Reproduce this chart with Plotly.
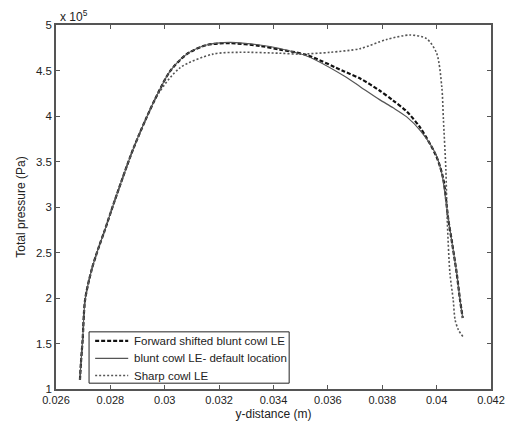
import plotly.graph_objects as go

# Total pressure profiles across the duct (pressure in units of 1e5 Pa)
x_forward = [0.02688, 0.02692, 0.02698, 0.02707, 0.02731, 0.02754, 0.02780, 0.02817,
             0.02883, 0.02934, 0.02975, 0.03019, 0.03081, 0.03154, 0.03240, 0.03350,
             0.03424, 0.03522, 0.03660, 0.03720, 0.03790, 0.03840, 0.03890, 0.03940,
             0.04000, 0.04025, 0.04043, 0.04055, 0.04074, 0.04086, 0.04096]
p_forward = [1.10, 1.30, 1.54, 1.98, 2.31, 2.53, 2.75, 3.08,
             3.63, 3.99, 4.25, 4.49, 4.68, 4.78, 4.80, 4.77,
             4.73, 4.67, 4.49, 4.41, 4.28, 4.17, 4.05, 3.87,
             3.55, 3.30, 2.86, 2.64, 2.27, 1.98, 1.78]

x_default = [0.02688, 0.02692, 0.02698, 0.02707, 0.02731, 0.02754, 0.02780, 0.02817,
             0.02883, 0.02934, 0.02975, 0.03019, 0.03081, 0.03154, 0.03240, 0.03350,
             0.03424, 0.03522, 0.03660, 0.03720, 0.03790, 0.03840, 0.03890, 0.03940,
             0.03994, 0.04019, 0.04037, 0.04055, 0.04074, 0.04086, 0.04096]
p_default = [1.10, 1.30, 1.54, 1.98, 2.31, 2.53, 2.75, 3.08,
             3.63, 3.99, 4.25, 4.49, 4.68, 4.78, 4.81, 4.78,
             4.74, 4.66, 4.44, 4.32, 4.18, 4.09, 3.99, 3.84,
             3.60, 3.37, 3.00, 2.64, 2.27, 1.98, 1.78]

x_sharp = [0.02688, 0.02692, 0.02698, 0.02707, 0.02731, 0.02754, 0.02780, 0.02817,
           0.02883, 0.02934, 0.02975, 0.03056, 0.03177, 0.03277, 0.03420, 0.03497,
           0.03608, 0.03718, 0.03816, 0.03902, 0.03963, 0.04000, 0.04019, 0.04025,
           0.04034, 0.04039, 0.04049, 0.04061, 0.04068, 0.04080, 0.04098]
p_sharp = [1.10, 1.30, 1.54, 1.98, 2.31, 2.53, 2.75, 3.08,
           3.63, 3.99, 4.24, 4.53, 4.68, 4.70, 4.69, 4.68,
           4.70, 4.74, 4.84, 4.89, 4.85, 4.69, 4.32, 3.96,
           3.41, 2.86, 2.27, 1.98, 1.76, 1.65, 1.57]

series_names = ["Forward shifted blunt cowl LE", "blunt cowl LE- default location", "Sharp cowl LE"]

x_ticks = [0.026, 0.028, 0.03, 0.032, 0.034, 0.036, 0.038, 0.04, 0.042]
x_tick_text = ["0.026", "0.028", "0.03", "0.032", "0.034", "0.036", "0.038", "0.04", "0.042"]
y_ticks = [1, 1.5, 2, 2.5, 3, 3.5, 4, 4.5, 5]
y_tick_text = ["1", "1.5", "2", "2.5", "3", "3.5", "4", "4.5", "5"]

font = "Liberation Sans, Arial, sans-serif"
text_color = "#222222"

styles = [
    dict(color="#111111", width=2.2, dash="4px,2px"),
    dict(color="#555555", width=1.2, dash="solid"),
    dict(color="#555555", width=1.6, dash="2px,2px"),
]

fig = go.Figure()
for xs, ps, name, st in zip([x_forward, x_default, x_sharp],
                            [p_forward, p_default, p_sharp], series_names, styles):
    fig.add_trace(go.Scatter(x=xs, y=ps, mode="lines", name=name, showlegend=False,
                             line=dict(shape="spline", smoothing=0.8, **st)))

axis_common = dict(showline=True, linecolor="#555555", linewidth=1.5, mirror="ticks",
                   ticks="inside", ticklen=4, tickcolor="#555555", showgrid=False,
                   zeroline=False, automargin=False, ticklabeloverflow="allow")

fig.update_xaxes(range=[0.026, 0.042], tickvals=x_ticks, ticktext=x_tick_text,
                 tickfont=dict(family=font, size=11, color=text_color),
                 title=dict(text="y-distance (m)", font=dict(family=font, size=12, color=text_color),
                            standoff=5),
                 **axis_common)
fig.update_yaxes(range=[1, 5], tickvals=y_ticks, ticktext=y_tick_text,
                 tickfont=dict(family=font, size=11.5, color=text_color),
                 title=dict(text="Total pressure (Pa)", font=dict(family=font, size=12, color=text_color),
                            standoff=8),
                 **axis_common)

fig.add_annotation(x=0, y=1, xref="paper", yref="paper", xanchor="left", yanchor="bottom",
                   text="x 10<sup>5</sup>", showarrow=False, xshift=2, yshift=-1,
                   font=dict(family=font, size=12, color=text_color))

# Compact legend box in the lower-left corner of the axes (paper coordinates)
box_x0, box_x1 = 0.076, 0.536
box_y0, box_y1 = 0.016, 0.157
row_y = [0.132, 0.084, 0.037]
sample_x0, sample_x1 = 0.090, 0.166
text_x = 0.174

fig.add_shape(type="rect", xref="paper", yref="paper", x0=box_x0, x1=box_x1, y0=box_y0, y1=box_y1,
              line=dict(color=text_color, width=1), fillcolor="white", layer="above")
for ry, name, st in zip(row_y, series_names, styles):
    fig.add_shape(type="line", xref="paper", yref="paper", x0=sample_x0, x1=sample_x1, y0=ry, y1=ry,
                  line=dict(color=st["color"], width=st["width"], dash=st["dash"]), layer="above")
    fig.add_annotation(x=text_x, y=ry, xref="paper", yref="paper", xanchor="left", yanchor="middle",
                       text=name, showarrow=False,
                       font=dict(family=font, size=11.5, color=text_color))

fig.update_layout(
    width=505, height=429,
    margin=dict(l=56, r=14, t=25, b=40),
    paper_bgcolor="white", plot_bgcolor="white",
    showlegend=False,
)

fig.write_html("out.html")
